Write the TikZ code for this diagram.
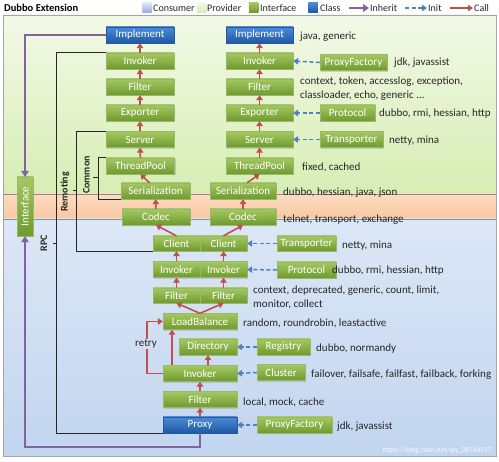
\documentclass[tikz,border=0pt]{standalone}
\usepackage{fontspec}
\setmainfont{Carlito}
\usetikzlibrary{arrows.meta,shadows}

\definecolor{callred}{HTML}{C0504D}
\definecolor{initblue}{HTML}{4F81BD}
\definecolor{inheritpurple}{HTML}{8064A2}
\definecolor{ifgreenT}{HTML}{A5C862}
\definecolor{ifgreenB}{HTML}{6E9A2E}
\definecolor{clsblueT}{HTML}{4C8BD6}
\definecolor{clsblueB}{HTML}{1F58A3}
\definecolor{provT}{HTML}{F3F9E7}
\definecolor{provB}{HTML}{D6EDB3}
\definecolor{midT}{HTML}{FDDCC2}
\definecolor{midB}{HTML}{F9C7A1}
\definecolor{consT}{HTML}{DCE7F6}
\definecolor{consB}{HTML}{C2D5EF}

\begin{document}
\begin{tikzpicture}[x=1pt, y=-1pt,
  iface/.style={rectangle, top color=ifgreenT, bottom color=ifgreenB, draw=ifgreenB!70!white, line width=0.3pt,
    text=white, font=\fontsize{11}{12}\selectfont, inner sep=0pt, minimum height=16pt,
    drop shadow={shadow xshift=1pt, shadow yshift=-1.2pt, opacity=0.3}},
  cls/.style={iface, top color=clsblueT, bottom color=clsblueB, draw=clsblueB},
  note/.style={anchor=west, inner sep=0pt, text=black!85, font=\fontsize{11}{12}\selectfont},
  tag/.style={rotate=90, inner sep=0pt, text=black!85, font=\fontsize{10}{12}\selectfont\bfseries},
  legsq/.style={rectangle, minimum size=9.5pt, inner sep=0pt},
  call/.style={draw=callred, line width=1.6pt, -{Triangle[length=5pt, width=6.5pt]}},
  init/.style={draw=initblue, line width=1.5pt, dash pattern=on 4pt off 2.5pt, -{Triangle[length=5pt, width=6.5pt]}},
  inherit/.style={draw=inheritpurple, line width=1.8pt, -{Triangle[length=6pt, width=7.5pt]}},
  brace/.style={draw=black!85, line width=0.9pt}]

  \useasboundingbox (0,0) rectangle (499,462);

  % 背景
  \fill[white] (0,0) rectangle (499,462);
  \shade[top color=provT, bottom color=provB] (3,15) rectangle (496,194);   % Provider
  \shade[top color=midT, bottom color=midB] (3,194) rectangle (496,219);    % 中间
  \shade[top color=consT, bottom color=consB] (3,219) rectangle (496,456);  % Consumer
  \draw[black!45, line width=0.6pt] (3,194) -- (496,194) (3,219) -- (496,219);
  \draw[black!35, line width=0.8pt] (3,15) rectangle (496,456);

  % 标题和图例
  \node[anchor=west, inner sep=0pt, font=\fontsize{10.5}{12}\selectfont\bfseries] (title) at (4,8) {Dubbo Extension};
  \node[legsq, top color=consT, bottom color=consB!80!blue] (sqCons) at (147,7.5) {};
  \node[note, font=\fontsize{10}{12}\selectfont] (lgCons) at (153,8) {Consumer};
  \node[legsq, top color=provT, bottom color=provB] (sqProv) at (201.5,7.5) {};
  \node[note, font=\fontsize{10}{12}\selectfont] (lgProv) at (207,8) {Provider};
  \node[legsq, top color=ifgreenT, bottom color=ifgreenB] (sqIf) at (253.5,7.5) {};
  \node[note, font=\fontsize{10}{12}\selectfont] (lgIf) at (260,8) {Interface};
  \node[legsq, top color=clsblueT, bottom color=clsblueB] (sqCls) at (313,7.5) {};
  \node[note, font=\fontsize{10}{12}\selectfont] (lgCls) at (320,8) {Class};
  \coordinate (inhA) at (349,8); \coordinate (inhB) at (369,8);
  \node[note, font=\fontsize{10}{12}\selectfont] (lgInh) at (370,8) {Inherit};
  \coordinate (initA) at (405,8); \coordinate (initB) at (427,8);
  \node[note, font=\fontsize{10}{12}\selectfont] (lgInit) at (428,8) {Init};
  \coordinate (callA) at (450,8); \coordinate (callB) at (473,8);
  \node[note, font=\fontsize{10}{12}\selectfont] (lgCall) at (474,8) {Call};
  \draw[inherit] (inhA) -- (inhB);
  \draw[init] (initA) -- (initB);
  \draw[call] (callA) -- (callB);

  % Provider 左列
  \node[cls, minimum width=68pt] (implL) at (140,35) {Implement};
  \node[iface, minimum width=68pt] (invL) at (140,61) {Invoker};
  \node[iface, minimum width=68pt] (filL) at (140,87) {Filter};
  \node[iface, minimum width=68pt] (expL) at (140,113) {Exporter};
  \node[iface, minimum width=68pt] (srvL) at (140,139.5) {Server};
  \node[iface, minimum width=68pt] (tpL) at (140.5,166) {ThreadPool};
  \node[iface, minimum width=69pt] (serL) at (155.5,191) {Serialization};
  \node[iface, minimum width=68pt] (codL) at (156,217) {Codec};

  % Provider 右列
  \node[cls, minimum width=67pt] (implR) at (259.5,35) {Implement};
  \node[iface, minimum width=67pt] (invR) at (259.5,61) {Invoker};
  \node[iface, minimum width=67pt] (filR) at (259.5,87) {Filter};
  \node[iface, minimum width=67pt] (expR) at (259.5,113) {Exporter};
  \node[iface, minimum width=67pt] (srvR) at (259.5,139.5) {Server};
  \node[iface, minimum width=67pt] (tpR) at (259.5,166) {ThreadPool};
  \node[iface, minimum width=66pt] (serR) at (243,191) {Serialization};
  \node[iface, minimum width=66pt] (codR) at (243,217) {Codec};

  % Consumer
  \node[iface, minimum width=47pt, minimum height=15pt] (cliL) at (176.5,243.5) {Client};
  \node[iface, minimum width=47pt, minimum height=15pt] (cliR) at (223.5,243.5) {Client};
  \node[iface, minimum width=47pt] (cinvL) at (176.5,269.5) {Invoker};
  \node[iface, minimum width=47pt] (cinvR) at (223.5,269.5) {Invoker};
  \node[iface, minimum width=47pt, minimum height=15pt] (cfilL) at (176.5,295.5) {Filter};
  \node[iface, minimum width=47pt, minimum height=15pt] (cfilR) at (223.5,295.5) {Filter};
  \node[iface, minimum width=74pt] (lb) at (200,321.5) {LoadBalance};
  \node[iface, minimum width=58pt] (dir) at (208,347) {Directory};
  \node[iface, minimum width=74pt] (cinv) at (200,373.5) {Invoker};
  \node[iface, minimum width=74pt] (cfil) at (200,399.5) {Filter};
  \node[cls, minimum width=74pt] (proxy) at (200,425) {Proxy};

  % 扩展点
  \node[iface, minimum width=67pt] (pfTop) at (353.5,62.5) {ProxyFactory};
  \node[iface, minimum width=55pt] (protTop) at (347.5,113) {Protocol};
  \node[iface, minimum width=63pt] (transTop) at (351.5,139.5) {Transporter};
  \node[iface, minimum width=59pt, minimum height=15pt] (transBot) at (306.5,243.5) {Transporter};
  \node[iface, minimum width=59pt] (protBot) at (306.5,270) {Protocol};
  \node[iface, minimum width=53pt] (reg) at (283.5,347) {Registry};
  \node[iface, minimum width=48pt] (clu) at (281,372.5) {Cluster};
  \node[iface, minimum width=75pt] (pfBot) at (294.5,425) {ProxyFactory};

  \node[iface, rotate=90, minimum width=59pt] (iface) at (25,206.5) {Interface};

  % 实现说明
  \node[note] (tImpl) at (300,37) {java, generic};
  \node[note] (tPfTop) at (394,63) {jdk, javassist};
  \node[note] (tFilA) at (300,82) {context, token, accesslog, exception,};
  \node[note] (tFilB) at (300,96) {classloader, echo, generic ...};
  \node[note] (tProtTop) at (379,114) {dubbo, rmi, hessian, http};
  \node[note] (tTransTop) at (389,141) {netty, mina};
  \node[note] (tTp) at (302,167) {fixed, cached};
  \node[note] (tSer) at (283,193) {dubbo, hessian, java, json};
  \node[note] (tCod) at (283,220) {telnet, transport, exchange};
  \node[note] (tTransBot) at (342,246) {netty, mina};
  \node[note] (tProtBot) at (332,271) {dubbo, rmi, hessian, http};
  \node[note] (tCfilA) at (253,291) {context, deprecated, generic, count, limit,};
  \node[note] (tCfilB) at (253,304) {monitor, collect};
  \node[note] (tLb) at (243,323) {random, roundrobin, leastactive};
  \node[note] (tReg) at (316,349) {dubbo, normandy};
  \node[note] (tClu) at (311,375) {failover, failsafe, failfast, failback, forking};
  \node[note] (tCfil) at (243,402) {local, mock, cache};
  \node[note] (tPfBot) at (337,427) {jdk, javassist};
  \node[anchor=east, inner sep=0pt, text=white, opacity=0.85, font=\fontsize{7.5}{9}\selectfont] (wm) at (492,451) {https://blog.csdn.net/qq\_28764557};

  % 括号
  \draw[brace] (invL.north west) -- ++(-49,0) |- (proxy.south west);   % RPC
  \draw[brace] (srvL.north west) -- ++(-29,0) |- (cliL.south west);    % Remoting
  \draw[brace] (tpL.north west) -- ++(-8,0) |- (serL.south west);      % Common
  \draw[brace] (57,243) -- ++(-4,0);
  \draw[brace] (77,190) -- ++(-4,0);
  \draw[brace] (98,177) -- ++(-5,0);
  \node[tag] (tRpc) at (44,243) {RPC};
  \node[tag] (tRem) at (65,192) {Remoting};
  \node[tag] (tCom) at (86.5,175) {Common};

  % 继承
  \draw[inherit] (implL.west) -| (iface.east);
  \draw[inherit] (proxy.south) -- ++(0,14) -| (iface.west);

  % 调用
  \draw[call] (invL) -- (implL);
  \draw[call] (filL) -- (invL);
  \draw[call] (expL) -- (filL);
  \draw[call] (srvL) -- (expL);
  \draw[call] (tpL) -- (srvL);
  \draw[call] ([xshift=-6pt]serL.north) -- (tpL.south);
  \draw[call] (codL) -- (serL);
  \draw[call] (invR) -- (implR);
  \draw[call] (filR) -- (invR);
  \draw[call] (expR) -- (filR);
  \draw[call] (srvR) -- (expR);
  \draw[call] (tpR) -- (srvR);
  \draw[call] ([xshift=4pt]serR.north) -- (tpR.south);
  \draw[call] (codR) -- (serR);
  \draw[call] (cliL.north) -- (codL.south);
  \draw[call] (cliR.north) -- (codR.south);
  \draw[call] (cinvL) -- (cliL);
  \draw[call] (cinvR) -- (cliR);
  \draw[call] (cfilL) -- (cinvL);
  \draw[call] (cfilR) -- (cinvR);
  \draw[call] (lb.north) -- (cfilL.south);
  \draw[call] (lb.north) -- (cfilR.south);
  \draw[call] ([xshift=-28pt]cinv.north) -- ([xshift=-28pt]lb.south);
  \draw[call] (dir.south |- cinv.north) -- (dir.south);
  \draw[call] (cinv.west) -- ++(-16,0) |- (lb.west);
  \draw[call] (cfil) -- (cinv);
  \draw[call] (proxy) -- (cfil);
  \node[inner sep=1pt, fill=consT!55!consB, text=black!85, font=\fontsize{11}{12}\selectfont] (tRetry) at (146,344) {retry};

  % 初始化
  \draw[init] (pfTop.west) -- (invR.east);
  \draw[init] (protTop.west) -- (expR.east);
  \draw[init] (transTop.west) -- (srvR.east);
  \draw[init] (transBot.west) -- (cliR.east);
  \draw[init] (protBot.west) -- (cinvR.east);
  \draw[init] (reg.west) -- (dir.east);
  \draw[init] (clu.west) -- (cinv.east);
  \draw[init] (pfBot.west) -- (proxy.east);

\end{tikzpicture}
\end{document}
